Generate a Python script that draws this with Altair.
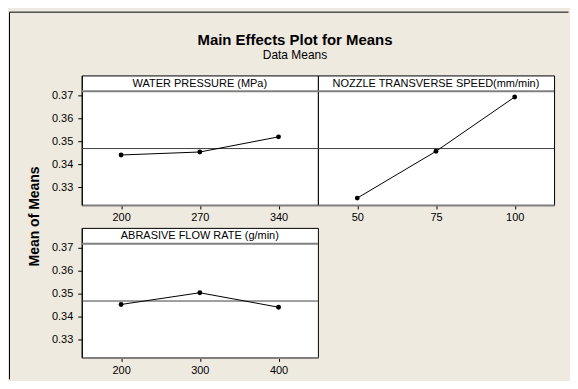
import altair as alt
import pandas as pd

# ---- data ----
FACTORS = ["WATER PRESSURE (MPa)", "NOZZLE TRANSVERSE SPEED(mm/min)", "ABRASIVE FLOW RATE (g/min)"]
WP_LEVELS = ["200", "270", "340"]
WP_MEANS = [0.3440, 0.3453, 0.3519]
NS_LEVELS = ["50", "75", "100"]
NS_MEANS = [0.3252, 0.3456, 0.3693]
AF_LEVELS = ["200", "300", "400"]
AF_MEANS = [0.3453, 0.3504, 0.3441]
GRAND_MEAN = 0.3468
Y_TICKS = [0.33, 0.34, 0.35, 0.36, 0.37]
TITLE = "Main Effects Plot for Means"
SUBTITLE = "Data Means"
Y_TITLE = "Mean of Means"

# ---- styling ----
Y_DOMAIN = [0.3222, 0.3787]
HEADER_LINE = 0.3718
HEADER_TEXT = 0.3750
FONT = "Liberation Sans"
BG = "#EEEAE0"
W, H = 237, 130


def panel(levels, means, label, show_y, first=False):
    df = pd.DataFrame({"level": levels, "mean": means})
    yscale = alt.Scale(domain=Y_DOMAIN, nice=False, zero=False)
    if show_y:
        if first:
            yaxis = alt.Axis(values=Y_TICKS, format=".2f", title=Y_TITLE,
                             titleX=-47, titleY=141, titleAngle=270,
                             titleAlign="center", titleBaseline="middle",
                             titleFont=FONT, titleFontSize=14, titleFontWeight="bold",
                             titleColor="black")
        else:
            yaxis = alt.Axis(values=Y_TICKS, format=".2f", title=None)
    else:
        yaxis = None

    def Y(field="mean"):
        return alt.Y(f"{field}:Q", scale=yscale, axis=yaxis)

    xenc = alt.X("level:O", sort=levels,
                 scale=alt.Scale(type="point", padding=0.5),
                 axis=alt.Axis(labelAngle=0, title=None))

    base = alt.Chart(df)
    line = base.mark_line(color="black", strokeWidth=1).encode(x=xenc, y=Y())
    pts = base.mark_circle(color="black", size=24, opacity=1).encode(x=xenc, y=Y())

    ref = pd.DataFrame({"mean": [GRAND_MEAN]})
    mean_rule = alt.Chart(ref).mark_rule(color="#404040", strokeWidth=1).encode(y=Y())

    hdr = pd.DataFrame({"mean": [HEADER_LINE]})
    hdr_rule = alt.Chart(hdr).mark_rule(color="#808080", strokeWidth=2).encode(y=Y())

    htxt = pd.DataFrame({"mean": [HEADER_TEXT], "label": [label]})
    hdr_text = alt.Chart(htxt).mark_text(font=FONT, fontSize=11, color="black",
                                         baseline="middle", align="center").encode(
        x=alt.value(W / 2), y=Y(), text="label:N")

    layers = [mean_rule, hdr_rule, hdr_text, line, pts]

    if first:
        # decorative outer frame (top and left edges, as in the reference)
        frame_top = alt.Chart(ref).mark_rule(color="black", strokeWidth=1, clip=False).encode(
            x=alt.value(-72.5), x2=alt.value(488.5), y=alt.value(-63.5))
        frame_left = alt.Chart(ref).mark_rule(color="black", strokeWidth=1, clip=False).encode(
            x=alt.value(-72.5), y=alt.value(-63.5), y2=alt.value(305))
        tdf = pd.DataFrame({"t": [TITLE], "s": [SUBTITLE]})
        title = alt.Chart(tdf).mark_text(font=FONT, fontSize=15, fontWeight="bold",
                                         color="black", align="center",
                                         baseline="alphabetic").encode(
            x=alt.value(214), y=alt.value(-31), text="t:N")
        sub = alt.Chart(tdf).mark_text(font=FONT, fontSize=12, color="black",
                                       align="center", baseline="alphabetic").encode(
            x=alt.value(214), y=alt.value(-16), text="s:N")
        layers = [frame_top, frame_left] + layers + [title, sub]

    return alt.layer(*layers).properties(width=W, height=H)


p1 = panel(WP_LEVELS, WP_MEANS, FACTORS[0], True, first=True)
p2 = panel(NS_LEVELS, NS_MEANS, FACTORS[1], False)
p3 = panel(AF_LEVELS, AF_MEANS, FACTORS[2], True)

chart = alt.concat(p1, p2, p3, columns=2, spacing={"row": 23, "column": 0},
                   bounds="flush").properties(
    background=BG,
    padding={"left": 0, "top": 2, "right": 0, "bottom": 0},
).configure_view(
    fill="white", stroke="black", strokeWidth=1
).configure_axis(
    labelFont=FONT, labelFontSize=11, labelColor="black",
    tickColor="black", tickSize=4, grid=False,
    domainColor="black", domainWidth=1,
).configure_axisX(
    domainColor="#808080", domainWidth=2, labelPadding=3
).configure_axisY(
    labelPadding=5
)

chart.save("out.html", embed_options={"renderer": "svg", "actions": False})
